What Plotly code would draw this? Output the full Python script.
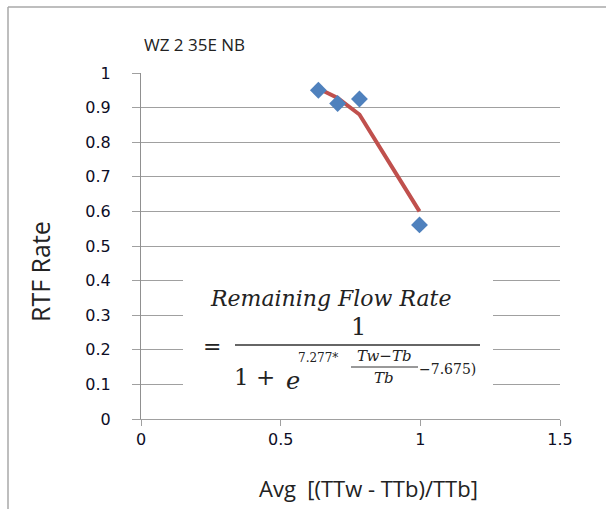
import plotly.graph_objects as go

# Data
x_obs = [0.635, 0.704, 0.782, 0.997]
y_obs = [0.950, 0.912, 0.925, 0.561]
x_fit = [0.635, 0.704, 0.782, 0.997]
y_fit = [0.955, 0.928, 0.880, 0.600]

y_ticks = [0, 0.1, 0.2, 0.3, 0.4, 0.5, 0.6, 0.7, 0.8, 0.9, 1]
y_ticktext = ["0", "0.1", "0.2", "0.3", "0.4", "0.5", "0.6", "0.7", "0.8", "0.9", "1"]
x_ticks = [0, 0.5, 1, 1.5]
x_ticktext = ["0", "0.5", "1", "1.5"]

W, H = 606, 509
L, R, T, B = 141, 46, 73, 90
PW, PH = W - L - R, H - T - B


def px(x):
    return (x - L) / PW


def py(y):
    return (H - B - y) / PH


fig = go.Figure()
fig.add_trace(go.Scatter(x=x_fit, y=y_fit, mode="lines",
                         line=dict(color="#C0504D", width=4), showlegend=False))
fig.add_trace(go.Scatter(x=x_obs, y=y_obs, mode="markers",
                         marker=dict(symbol="diamond", size=13, color="#4F81BD"),
                         showlegend=False))

tickfont = dict(family="DejaVu Sans", size=16, color="#0d0d26")
fig.update_xaxes(range=[0, 1.5], tickvals=x_ticks, ticktext=x_ticktext,
                 showgrid=False, zeroline=False, showline=True, linecolor="#a0a0a0",
                 linewidth=1, ticks="outside", ticklen=6, tickcolor="#a0a0a0",
                 tickfont=tickfont, fixedrange=True)
fig.update_yaxes(range=[0, 1], tickvals=y_ticks, ticktext=y_ticktext,
                 showgrid=True, gridcolor="#a0a0a0", gridwidth=1, zeroline=False,
                 showline=True, linecolor="#909090", linewidth=1,
                 ticks="outside", ticklen=8, tickcolor="#a0a0a0",
                 ticklabelstandoff=18, tickfont=tickfont, fixedrange=True)

shapes = []
# white equation box hiding gridlines
shapes.append(dict(type="rect", xref="paper", yref="paper",
                   x0=px(183), x1=px(493), y0=py(396), y1=py(274),
                   fillcolor="white", line=dict(width=0), layer="above"))
# main fraction bar
shapes.append(dict(type="line", xref="paper", yref="paper",
                   x0=px(235), x1=px(480), y0=py(345), y1=py(345),
                   line=dict(color="#333333", width=1.5), layer="above"))
# small fraction bar in exponent
shapes.append(dict(type="line", xref="paper", yref="paper",
                   x0=px(351), x1=px(418), y0=py(367), y1=py(367),
                   line=dict(color="#333333", width=1), layer="above"))
# outer frame (left and top)
shapes.append(dict(type="line", xref="paper", yref="paper",
                   x0=px(8), x1=px(8), y0=py(509), y1=py(7),
                   line=dict(color="#a8a8a8", width=1.5), layer="above"))
shapes.append(dict(type="line", xref="paper", yref="paper",
                   x0=px(8), x1=px(606), y0=py(7), y1=py(7),
                   line=dict(color="#a8a8a8", width=1.5), layer="above"))

serif = "DejaVu Serif"
tc = "#222222"


def ann(text, x, y, size, family=serif, xanchor="center", **kw):
    return dict(text=text, x=px(x), y=py(y), xref="paper", yref="paper",
                xanchor=xanchor, yanchor="middle", showarrow=False,
                font=dict(family=family, size=size, color=tc), **kw)


annotations = [
    ann("<i>Remaining Flow Rate</i>", 330, 298, 22),
    ann("=", 212, 346, 22),
    ann("1", 358, 327, 24),
    ann("1 +", 254, 377, 23),
    ann("<i>e</i>", 293, 381, 24),
    ann("7.277*", 318, 358, 12),
    ann("<i>Tw</i>\u2212<i>Tb</i>", 384, 356, 15),
    ann("<i>Tb</i>", 384, 378, 15),
    ann("\u22127.675)", 447, 369, 14),
    ann("WZ 2 35E NB", 142, 45, 17, family="Open Sans", xanchor="left"),
    ann("Avg\u00a0\u00a0[(TTw - TTb)/TTb]", 368, 488, 22, family="Open Sans"),
    dict(text="RTF Rate", x=px(40), y=py(272), xref="paper", yref="paper",
         xanchor="center", yanchor="middle", showarrow=False, textangle=-90,
         font=dict(family="Open Sans", size=25, color=tc)),
]

fig.update_layout(width=W, height=H, margin=dict(l=L, r=R, t=T, b=B),
                  paper_bgcolor="white", plot_bgcolor="white",
                  shapes=shapes, annotations=annotations, showlegend=False)

fig.write_html("out.html")
